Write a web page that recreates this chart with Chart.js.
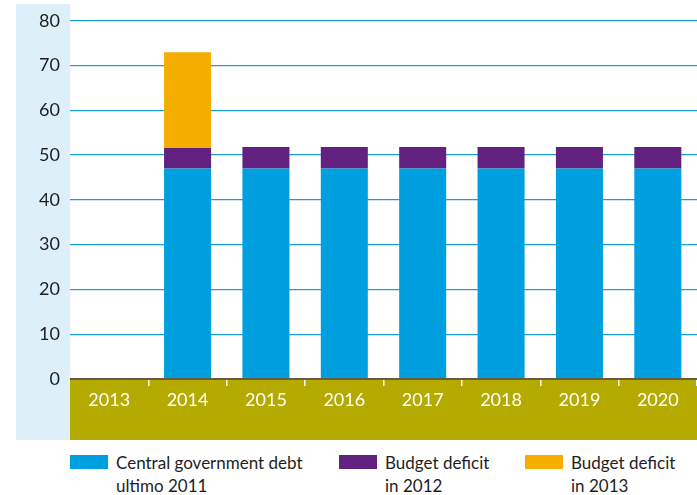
<!DOCTYPE html>
<html>
<head>
<meta charset="utf-8">
<script src="https://cdn.jsdelivr.net/npm/chart.js@4.4.0/dist/chart.umd.min.js"></script>
<style>
  body { margin: 0; background: #fff; font-family: Lato, "Open Sans", sans-serif; }
  #wrap { position: relative; width: 697px; height: 495px; }
  #box { position: absolute; left: 0; top: 0; width: 697px; height: 445px; }
  .leg { position: absolute; top: 451px; font-size: 17px; line-height: 23px; color: #1e1e1e; }
  .sw { position: absolute; top: 4px; width: 38px; height: 14px; }
  .tx { position: absolute; left: 46px; top: 0; white-space: nowrap; }
</style>
</head>
<body>
<div id="wrap">
  <div id="box"><canvas id="debtChart"></canvas></div>
  <div class="leg" style="left:70px"><div class="sw" style="background:#009fe0"></div><div class="tx">Central government debt<br>ultimo 2011</div></div>
  <div class="leg" style="left:339px"><div class="sw" style="background:#62217e"></div><div class="tx">Budget deficit<br>in 2012</div></div>
  <div class="leg" style="left:525px"><div class="sw" style="background:#f5ae00"></div><div class="tx">Budget deficit<br>in 2013</div></div>
</div>
<script>
const years = ['2013', '2014', '2015', '2016', '2017', '2018', '2019', '2020'];
const debt2011 = [null, 47, 47, 47, 47, 47, 47, 47];
const deficit2012 = [null, 4.6, 4.8, 4.8, 4.8, 4.8, 4.8, 4.8];
const deficit2013 = [null, 21.4, null, null, null, null, null, null];
const yTicks = [0, 10, 20, 30, 40, 50, 60, 70, 80];

const fontName = 'Lato, "Open Sans", sans-serif';

// background panels and zero line
const panels = {
	id: 'panels',
	beforeDraw(chart) {
		const ctx = chart.ctx;
		const a = chart.chartArea;
		ctx.save();
		ctx.fillStyle = '#ddf0fa';
		ctx.fillRect(16, 4, a.left - 16, 440 - 4);
		ctx.fillStyle = '#b5aa00';
		ctx.fillRect(a.left, a.bottom, a.right - a.left, 440 - a.bottom);
		ctx.restore();
	},
	afterDatasetsDraw(chart) {
		const ctx = chart.ctx;
		const a = chart.chartArea;
		ctx.save();
		ctx.strokeStyle = '#6a5a40';
		ctx.lineWidth = 2;
		ctx.beginPath();
		ctx.moveTo(a.left, a.bottom);
		ctx.lineTo(a.right, a.bottom);
		ctx.stroke();
		ctx.restore();
	}
};

const ctx = document.getElementById('debtChart').getContext('2d');
const chart = new Chart(ctx, {
	type: 'bar',
	data: {
		labels: years,
		datasets: [
			{ label: 'Central government debt ultimo 2011', data: debt2011, backgroundColor: '#009fe0' },
			{ label: 'Budget deficit in 2012', data: deficit2012, backgroundColor: '#62217e' },
			{ label: 'Budget deficit in 2013', data: deficit2013, backgroundColor: '#f5ae00' },
		],
	},
	options: {
		responsive: true,
		maintainAspectRatio: false,
		animation: false,
		layout: { padding: { top: 19, right: 0, bottom: 5, left: 0 } },
		datasets: { bar: { barPercentage: 0.6, categoryPercentage: 1, borderWidth: 0 } },
		plugins: { legend: { display: false }, tooltip: { enabled: false } },
		scales: {
			x: {
				stacked: true,
				grid: {
					offset: true,
					drawOnChartArea: false,
					tickLength: 7,
					lineWidth: 1.5,
					color: (c) => (c.index === 0 || c.index === years.length) ? 'rgba(0,0,0,0)' : '#ffffff',
				},
				border: { display: false },
				ticks: { color: '#ffffff', font: { family: fontName, size: 18 }, padding: 3 },
				afterFit(scale) { scale.height = 61; },
			},
			y: {
				stacked: true,
				min: 0,
				max: 80,
				afterBuildTicks(scale) { scale.ticks = yTicks.map(v => ({ value: v })); },
				grid: { color: '#1a9edb', lineWidth: 1.3, drawTicks: false },
				border: { display: false },
				ticks: { color: '#1e1e1e', font: { family: fontName, size: 18 }, padding: 10 },
				afterFit(scale) { scale.width = 70; },
			},
		},
	},
	plugins: [panels],
});
</script>
</body>
</html>
